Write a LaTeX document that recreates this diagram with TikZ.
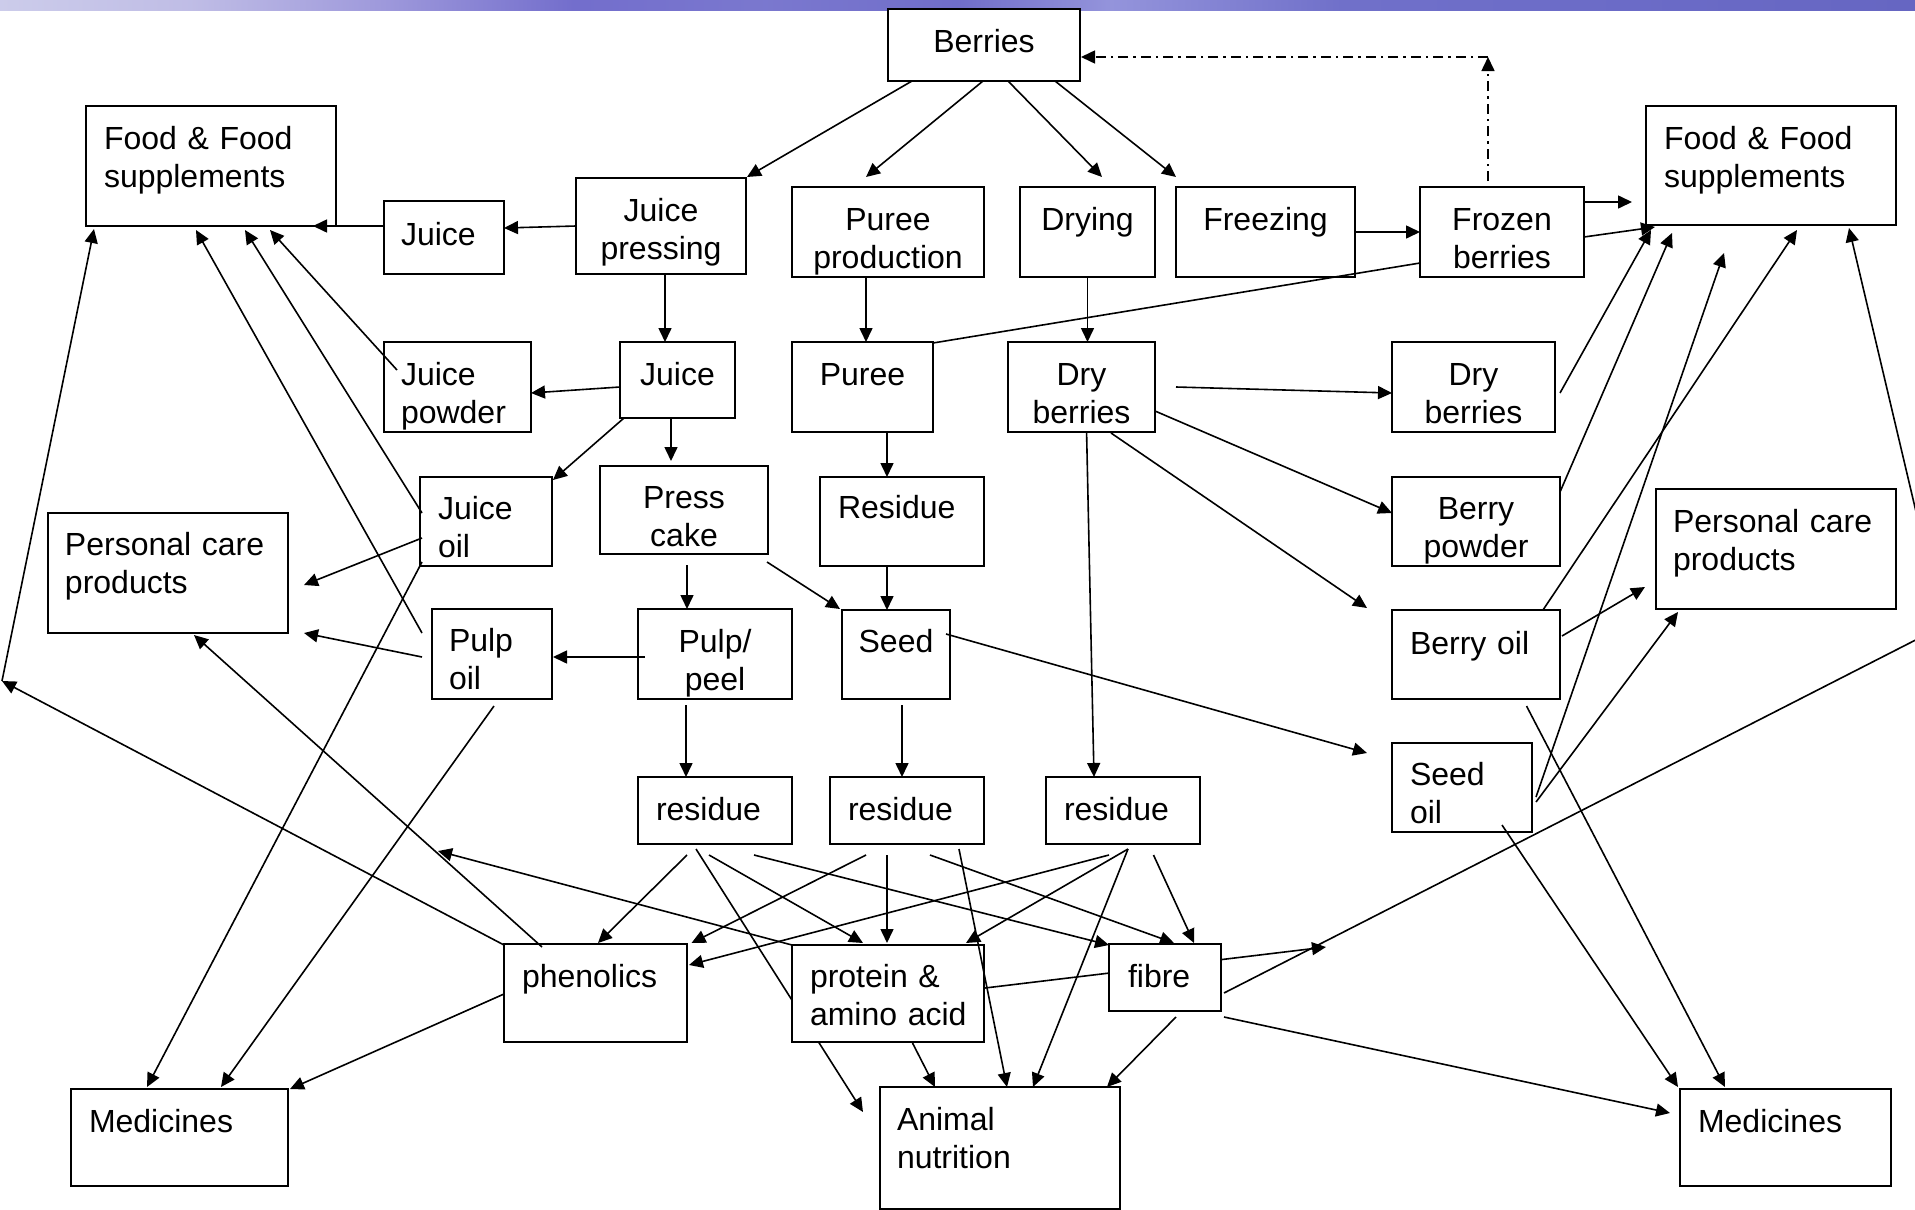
\documentclass[tikz,border=0pt]{standalone}
\usepackage{fontspec}
\setmainfont{Liberation Sans}
\usetikzlibrary{arrows.meta,backgrounds}
\pgfdeclarehorizontalshading{topbar}{100bp}{rgb(0bp)=(0.80,0.80,0.92); rgb(25bp)=(0.80,0.80,0.92); rgb(30bp)=(0.75,0.74,0.90); rgb(35bp)=(0.62,0.60,0.86); rgb(40bp)=(0.45,0.43,0.80); rgb(45bp)=(0.48,0.47,0.81); rgb(50bp)=(0.44,0.43,0.79); rgb(54bp)=(0.58,0.58,0.86); rgb(60bp)=(0.44,0.44,0.79); rgb(67.5bp)=(0.42,0.42,0.78); rgb(75bp)=(0.40,0.40,0.76); rgb(100bp)=(0.40,0.40,0.76)}
\begin{document}
\begin{tikzpicture}[x=1pt,y=-1pt,
  box/.style={draw=black, line width=2pt, fill=white, inner sep=0pt, outer sep=0pt, anchor=north west, font=\fontsize{32}{38.5}\selectfont},
  lbox/.style={box, align=left},
  cbox/.style={box, align=center},
  conn/.style={line width=1.6pt, -{Triangle[length=14pt,width=13pt]}},
  pline/.style={line width=1.6pt},
  dd/.style={line width=1.6pt, dash pattern=on 10pt off 5pt on 2.5pt off 5pt, -{Triangle[length=14pt,width=13pt]}},
]
\useasboundingbox (0,0) rectangle (1915,1210);
\begin{pgfonlayer}{background}
\fill[white] (0,0) rectangle (1915,1210);
\shade[shading=topbar] (0,0) rectangle (1915,10);
\end{pgfonlayer}

% ---------- boxes ----------
\node[cbox, text width=192pt, text height=43pt, text depth=29pt] (berries) at (888,9) {Berries};
\node[lbox, text width=250pt, text height=43pt, text depth=77pt] (foodL) at (86,106) {\hspace*{18pt}Food \& Food\\\hspace*{18pt}supplements};
\node[lbox, text width=120pt, text height=44pt, text depth=29pt] (juiceA) at (384,201) {\hspace*{17pt}Juice};
\node[cbox, text width=170pt, text height=43pt, text depth=53pt] (jpress) at (576,178) {Juice\\pressing};
\node[cbox, text width=192pt, text height=43pt, text depth=47pt] (pprod) at (792,187) {Puree\\production};
\node[cbox, text width=135pt, text height=43pt, text depth=47pt] (drying) at (1020,187) {Drying};
\node[cbox, text width=179pt, text height=43pt, text depth=47pt] (freezing) at (1176,187) {Freezing};
\node[cbox, text width=164pt, text height=43pt, text depth=47pt] (frozen) at (1420,187) {Frozen\\berries};
\node[lbox, text width=250pt, text height=43pt, text depth=76pt] (foodR) at (1646,106) {\hspace*{18pt}Food \& Food\\\hspace*{18pt}supplements};
\node[lbox, text width=147pt, text height=43pt, text depth=47pt] (jpowder) at (384,342) {\hspace*{17pt}Juice\\\hspace*{17pt}powder};
\node[cbox, text width=115pt, text height=43pt, text depth=33pt] (juiceB) at (620,342) {Juice};
\node[cbox, text width=141pt, text height=43pt, text depth=47pt] (puree) at (792,342) {Puree};
\node[cbox, text width=147pt, text height=43pt, text depth=47pt] (dryb) at (1008,342) {Dry\\berries};
\node[cbox, text width=163pt, text height=43pt, text depth=47pt] (drybR) at (1392,342) {Dry\\berries};
\node[lbox, text width=240pt, text height=42pt, text depth=78pt] (pcL) at (48,513) {\hspace*{17pt}Personal care\\\hspace*{17pt}products};
\node[lbox, text width=132pt, text height=42pt, text depth=47pt] (joil) at (420,477) {\hspace*{18pt}Juice\\\hspace*{18pt}oil};
\node[cbox, text width=168pt, text height=42pt, text depth=46pt] (pcake) at (600,466) {Press\\cake};
\node[lbox, text width=164pt, text height=41pt, text depth=48pt] (residue) at (820,477) {\hspace*{18pt}Residue};
\node[cbox, text width=168pt, text height=42pt, text depth=47pt] (bpowder) at (1392,477) {Berry\\powder};
\node[lbox, text width=240pt, text height=43pt, text depth=77pt] (pcR) at (1656,489) {\hspace*{17pt}Personal care\\\hspace*{17pt}products};
\node[lbox, text width=120pt, text height=42pt, text depth=48pt] (poil) at (432,609) {\hspace*{17pt}Pulp\\\hspace*{17pt}oil};
\node[cbox, text width=154pt, text height=43pt, text depth=47pt] (ppeel) at (638,609) {Pulp/\\peel};
\node[cbox, text width=108pt, text height=42pt, text depth=47pt] (seed) at (842,610) {Seed};
\node[lbox, text width=168pt, text height=44pt, text depth=45pt] (boil) at (1392,610) {\hspace*{18pt}Berry oil};
\node[lbox, text width=140pt, text height=42pt, text depth=47pt] (soil) at (1392,743) {\hspace*{18pt}Seed\\\hspace*{18pt}oil};
\node[lbox, text width=154pt, text height=43pt, text depth=24pt] (res1) at (638,777) {\hspace*{18pt}residue};
\node[lbox, text width=154pt, text height=43pt, text depth=24pt] (res2) at (830,777) {\hspace*{18pt}residue};
\node[lbox, text width=154pt, text height=43pt, text depth=24pt] (res3) at (1046,777) {\hspace*{18pt}residue};
\node[lbox, text width=183pt, text height=43pt, text depth=55pt] (phen) at (504,944) {\hspace*{18pt}phenolics};
\node[lbox, text width=192pt, text height=42pt, text depth=55pt] (prot) at (792,945) {\hspace*{18pt}protein \&\\\hspace*{18pt}amino acid};
\node[lbox, text width=112pt, text height=43pt, text depth=24pt] (fibre) at (1109,944) {\hspace*{19pt}fibre};
\node[lbox, text width=217pt, text height=43pt, text depth=54pt] (medL) at (71,1089) {\hspace*{18pt}Medicines};
\node[lbox, text width=240pt, text height=43pt, text depth=79pt] (animal) at (880,1087) {\hspace*{17pt}Animal\\\hspace*{17pt}nutrition};
\node[lbox, text width=211pt, text height=43pt, text depth=54pt] (medR) at (1680,1089) {\hspace*{18pt}Medicines};

% ---------- free ends ----------
\coordinate (lpt) at (2,681);
\coordinate (rpt) at (1943,626);
\coordinate (ret) at (1488,57);
\coordinate (pend) at (438,851);

% ---------- connectors hidden behind boxes ----------
\begin{pgfonlayer}{background}
\draw[conn] ([shift={(58,72)}]res1.north west) -- ([shift={(-17,25)}]animal.north west);
\draw[conn] ([shift={(193,43)}]prot.north west) -- ([shift={(217,3)}]fibre.north west);
\end{pgfonlayer}

% ---------- connectors ----------
\draw[conn] ([shift={(24,72)}]berries.north west) -- ([shift={(171,-1)}]jpress.north west);
\draw[conn] ([shift={(95,72)}]berries.north west) -- ([shift={(74,-10)}]pprod.north west);
\draw[conn] ([shift={(120,72)}]berries.north west) -- ([shift={(82,-10)}]drying.north west);
\draw[conn] ([shift={(167,72)}]berries.north west) -- ([shift={(0,-10)}]freezing.north west);
\draw[conn] ([shift={(0,48)}]jpress.north west) -- ([shift={(120,27)}]juiceA.north west);
\draw[conn] ([shift={(0,25)}]juiceA.north west) -- ([shift={(227,120)}]foodL.north west);
\draw[conn] ([shift={(89,96)}]jpress.north west) -- ([shift={(45,0)}]juiceB.north west);
\draw[conn] ([shift={(0,45)}]juiceB.north west) -- ([shift={(147,51)}]jpowder.north west);
\draw[conn] ([shift={(4,76)}]juiceB.north west) -- ([shift={(133,3)}]joil.north west);
\draw[conn] ([shift={(51,76)}]juiceB.north west) -- ([shift={(71,-5)}]pcake.north west);
\draw[conn] ([shift={(13,28)}]jpowder.north west) -- ([shift={(184,124)}]foodL.north west);
\draw[conn] ([shift={(2,36)}]joil.north west) -- ([shift={(159,124)}]foodL.north west);
\draw[conn] ([shift={(-10,24)}]poil.north west) -- ([shift={(110,124)}]foodL.north west);
\draw[conn] (lpt) -- ([shift={(8,123)}]foodL.north west);
\draw[conn] ([shift={(0,1)}]phen.north west) -- (lpt);
\draw[conn] ([shift={(2,61)}]joil.north west) -- ([shift={(256,72)}]pcL.north west);
\draw[conn] ([shift={(-10,48)}]poil.north west) -- ([shift={(256,120)}]pcL.north west);
\draw[conn] ([shift={(2,85)}]joil.north west) -- ([shift={(76,-2)}]medL.north west);
\draw[conn] ([shift={(62,97)}]poil.north west) -- ([shift={(150,-2)}]medL.north west);
\draw[conn] ([shift={(7,48)}]ppeel.north west) -- ([shift={(121,48)}]poil.north west);
\draw[conn] ([shift={(38,3)}]phen.north west) -- ([shift={(146,122)}]pcL.north west);
\draw[conn] ([shift={(0,50)}]phen.north west) -- ([shift={(219,0)}]medL.north west);
\draw[conn] (prot.north west) -- (pend);
\draw[conn] ([shift={(87,99)}]pcake.north west) -- ([shift={(49,0)}]ppeel.north west);
\draw[conn] ([shift={(167,96)}]pcake.north west) -- ([shift={(-2,-1)}]seed.north west);
\draw[conn] ([shift={(74,90)}]pprod.north west) -- ([shift={(74,0)}]puree.north west);
\draw[conn] ([shift={(95,90)}]puree.north west) -- ([shift={(67,0)}]residue.north west);
\draw[conn] ([shift={(67,89)}]residue.north west) -- ([shift={(45,0)}]seed.north west);
\draw[conn] ([shift={(67.5,90)}]drying.north west) -- ([shift={(79.5,0)}]dryb.north west);
\draw[conn] ([shift={(179,45)}]freezing.north west) -- ([shift={(0,45)}]frozen.north west);
\draw[conn] ([shift={(164,15)}]frozen.north west) -- ([shift={(-14,96)}]foodR.north west);
\draw[conn] ([shift={(164,50)}]frozen.north west) -- ([shift={(9,121)}]foodR.north west);
\draw[pline] ([shift={(0,76)}]frozen.north west) -- ([shift={(141,1)}]puree.north west);
\draw[dd] ([shift={(68,-6)}]frozen.north west) -- (ret);
\draw[dd] (ret) -- ([shift={(193,48)}]berries.north west);
\draw[conn] ([shift={(48,96)}]ppeel.north west) -- ([shift={(48,0)}]res1.north west);
\draw[conn] ([shift={(60,95)}]seed.north west) -- ([shift={(72,0)}]res2.north west);
\draw[conn] ([shift={(78.6,91)}]dryb.north west) -- ([shift={(48,0)}]res3.north west);
\draw[conn] ([shift={(168,45)}]dryb.north west) -- ([shift={(0,51)}]drybR.north west);
\draw[conn] ([shift={(147,69)}]dryb.north west) -- ([shift={(0,36)}]bpowder.north west);
\draw[conn] ([shift={(103,91)}]dryb.north west) -- ([shift={(-25,-2)}]boil.north west);
\draw[conn] ([shift={(104,24)}]seed.north west) -- ([shift={(-25,10)}]soil.north west);
\draw[conn] ([shift={(168,51)}]drybR.north west) -- ([shift={(5,124)}]foodR.north west);
\draw[conn] ([shift={(168,15)}]bpowder.north west) -- ([shift={(26,127)}]foodR.north west);
\draw[conn] ([shift={(151,0)}]boil.north west) -- ([shift={(151,124)}]foodR.north west);
\draw[conn] ([shift={(144,54)}]soil.north west) -- ([shift={(78,147)}]foodR.north west);
\draw[conn] ([shift={(170,26)}]boil.north west) -- ([shift={(-11,98)}]pcR.north west);
\draw[conn] ([shift={(144,59)}]soil.north west) -- ([shift={(22,123)}]pcR.north west);
\draw[conn] ([shift={(134.5,96)}]boil.north west) -- ([shift={(45,-2)}]medR.north west);
\draw[conn] ([shift={(110,82)}]soil.north west) -- ([shift={(-2,-2)}]medR.north west);
\draw[conn] ([shift={(115,73)}]fibre.north west) -- ([shift={(-10,24)}]medR.north west);
\draw[pline] ([shift={(115,49)}]fibre.north west) -- (rpt);
\draw[conn] (rpt) -- ([shift={(203,122)}]foodR.north west);
\draw[conn] ([shift={(49,78)}]res1.north west) -- ([shift={(94,-1)}]phen.north west);
\draw[conn] ([shift={(71,78)}]res1.north west) -- ([shift={(71,-2)}]prot.north west);
\draw[conn] ([shift={(116,78)}]res1.north west) -- ([shift={(0,1)}]fibre.north west);
\draw[conn] ([shift={(36,78)}]res2.north west) -- ([shift={(187.5,-1)}]phen.north west);
\draw[conn] ([shift={(57,78)}]res2.north west) -- ([shift={(95,-2)}]prot.north west);
\draw[conn] ([shift={(100,78)}]res2.north west) -- ([shift={(65,-1)}]fibre.north west);
\draw[conn] ([shift={(129,72)}]res2.north west) -- ([shift={(127,0)}]animal.north west);
\draw[conn] ([shift={(63,78)}]res3.north west) -- ([shift={(185,21)}]phen.north west);
\draw[conn] ([shift={(82,72)}]res3.north west) -- ([shift={(174,-2)}]prot.north west);
\draw[conn] ([shift={(82,72)}]res3.north west) -- ([shift={(153,0)}]animal.north west);
\draw[conn] ([shift={(107.5,78)}]res3.north west) -- ([shift={(85,-1)}]fibre.north west);
\draw[conn] ([shift={(120.5,98)}]prot.north west) -- ([shift={(55,0)}]animal.north west);
\draw[conn] ([shift={(67,73)}]fibre.north west) -- ([shift={(227,0)}]animal.north west);
\end{tikzpicture}
\end{document}
